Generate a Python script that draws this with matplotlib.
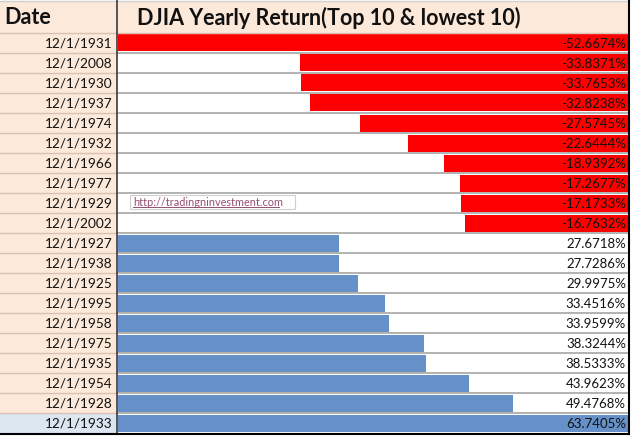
import matplotlib
matplotlib.use('Agg')
import matplotlib.pyplot as plt
from matplotlib.patches import Rectangle

# lowest 10 yearly returns (%)
dates_low = ['12/1/1931', '12/1/2008', '12/1/1930', '12/1/1937', '12/1/1974',
             '12/1/1932', '12/1/1966', '12/1/1977', '12/1/1929', '12/1/2002']
returns_low = [-52.6674, -33.8371, -33.7653, -32.8238, -27.5745,
               -22.6444, -18.9392, -17.2677, -17.1733, -16.7632]

# top 10 yearly returns (%)
dates_top = ['12/1/1927', '12/1/1938', '12/1/1925', '12/1/1995', '12/1/1958',
             '12/1/1975', '12/1/1935', '12/1/1954', '12/1/1928', '12/1/1933']
returns_top = [27.6718, 27.7286, 29.9975, 33.4516, 33.9599,
               38.3244, 38.5333, 43.9623, 49.4768, 63.7405]

col_titles = ['Date', 'DJIA Yearly Return(Top 10 & lowest 10)']
link = 'http://tradingninvestment.com'

dates = dates_low + dates_top
returns = returns_low + returns_top

plt.rcParams['font.family'] = ['Lato', 'DejaVu Sans']

fig = plt.figure(figsize=(6.4, 4.36), dpi=100)
ax = fig.add_axes([0, 0, 1, 1])
ax.set_xlim(0, 640)
ax.set_ylim(436, 0)
ax.axis('off')

# sheet geometry (pixels)
xb, xe = 117, 628
head_h, row_h = 33, 20
n = len(dates)
tops = [head_h + row_h * i for i in range(n)]
mids = [t + row_h / 2 for t in tops]
bottom = head_h + row_h * n

peach = '#FDE9D9'
ax.add_patch(Rectangle((0, 2), xe, head_h - 2, color=peach, lw=0))
ax.add_patch(Rectangle((0, head_h), xb, row_h * n, color=peach, lw=0))
ax.add_patch(Rectangle((0, tops[-1]), xb, row_h, color='#DCE6F1', lw=0))

# data bars, each group scaled to its own max
span = xe - xb - 1
m_low = max(abs(v) for v in returns_low)
m_top = max(returns_top)
w_low = [abs(v) / m_low * span for v in returns_low]
w_top = [v / m_top * span for v in returns_top]
ax.barh(mids[:10], [-w for w in w_low], left=xe - 0.5, height=row_h - 3,
        color='#FF0000', lw=0)
ax.barh(mids[10:], w_top, left=xb + 0.5, height=row_h - 3,
        color='#6591C8', lw=0)

# grid lines
for t in tops[1:]:
    ax.plot([xb, xe], [t, t], color='#A6A6A6', lw=1.2)
    ax.plot([0, xb], [t, t], color='#D8C2B6', lw=1)
ax.plot([0, xe], [head_h, head_h], color='#D8C2B6', lw=1)
ax.plot([0, xe], [1, 1], color='#D0D0D0', lw=1)
ax.plot([xb - 0.5, xb - 0.5], [0, bottom], color='#3A3A3A', lw=1.2)
ax.plot([xe + 0.5, xe + 0.5], [0, bottom + 1], color='#000000', lw=1.5)
ax.plot([0, xe + 1], [bottom + 1, bottom + 1], color='#000000', lw=1.5)

# header
ax.text(4, head_h / 2 + 1, col_titles[0], fontsize=15.5, fontweight='bold',
        ha='left', va='center', color='#111111')
ax.text(329, head_h / 2 + 1, col_titles[1], fontsize=15.5, fontweight='bold',
        ha='center', va='center', color='#111111')

# cell text
for d, v, y in zip(dates, returns, mids):
    ax.text(xb - 4, y + 0.5, d, fontsize=9.8, ha='right', va='center', color='#111111')
    ax.text(xe - 2, y + 0.5, '%.4f%%' % v, fontsize=9.5, ha='right', va='center',
            color='#111111')

# hyperlink text box
ax.add_patch(Rectangle((130, 195), 165, 14, facecolor='white',
                       edgecolor='#D0D0D0', lw=0.8))
ax.text(133, 202, link, fontsize=7.8, ha='left', va='center', color='#954F72')
ax.plot([133, 279], [206.5, 206.5], color='#954F72', lw=0.7)

fig.savefig('out.png', dpi=100)
